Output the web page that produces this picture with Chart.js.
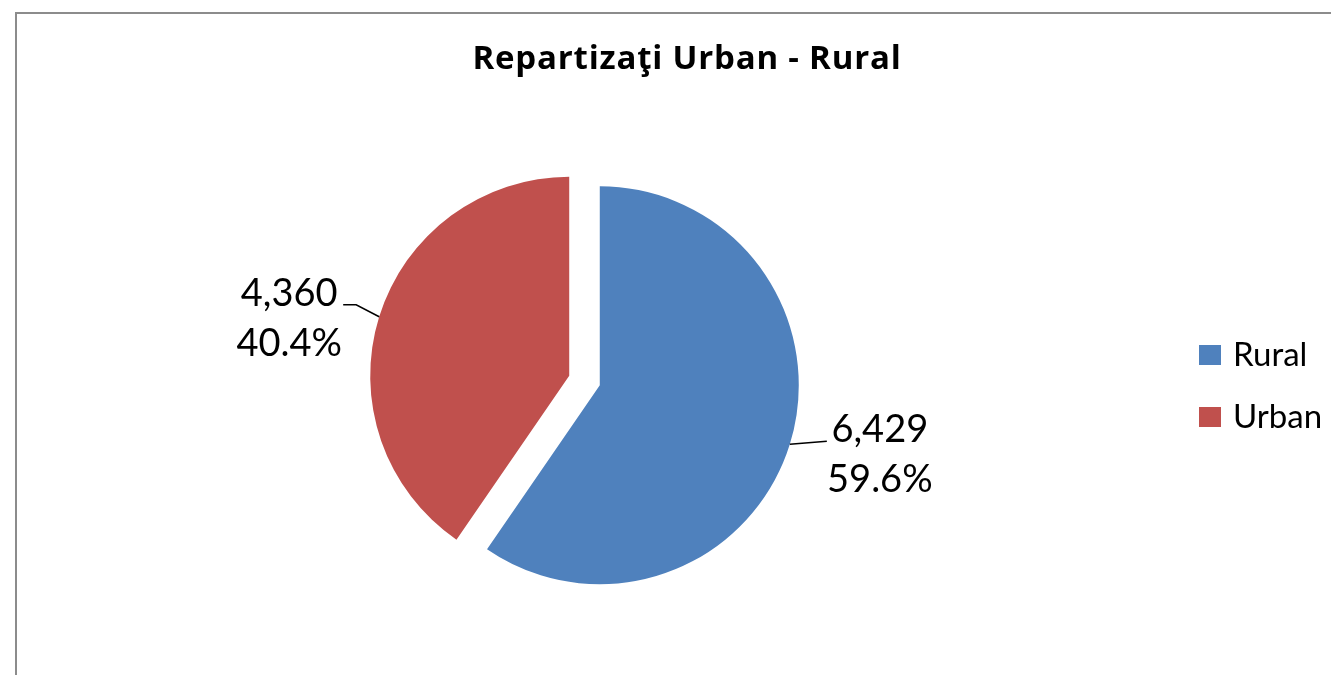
<!DOCTYPE html>
<html>
<head>
<meta charset="utf-8">
<script src="https://cdn.jsdelivr.net/npm/chart.js@4"></script>
<style>
  html,body{margin:0;padding:0;background:#fff;overflow:hidden;}
  .frame{position:absolute;left:15px;top:12px;width:1400px;height:700px;border:2px solid #8c8c8c;box-sizing:border-box;}
  #pie{position:absolute;left:0;top:0;}
</style>
</head>
<body>
<div class="frame"></div>
<canvas id="pie" width="1331" height="675"></canvas>
<script>
const title = 'Repartizaţi Urban - Rural';
const labels = ['Rural', 'Urban'];
const values = [6429, 4360];
const colors = ['#4F81BD', '#C0504D'];

const FONT = 'Lato, "Open Sans", sans-serif';
const EXPLODE = 16;

const total = values.reduce((a,b)=>a+b,0);

// pull each slice out from the centre, then let the arc element draw itself
const explodePlugin = {
  id:'explode',
  beforeDatasetDraw(chart, args){
    const ctx = chart.ctx;
    args.meta.data.forEach(arc=>{
      const mid = (arc.startAngle + arc.endAngle)/2;
      ctx.save();
      ctx.translate(Math.cos(mid)*EXPLODE, Math.sin(mid)*EXPLODE);
      arc.draw(ctx);
      ctx.restore();
    });
    return false;
  }
};

const decorPlugin = {
  id:'decor',
  afterDraw(chart){
    const ctx = chart.ctx;
    ctx.save();
    // title
    ctx.fillStyle = '#000';
    ctx.font = 'bold 33px "Open Sans", sans-serif';
    ctx.letterSpacing = '0.8px';
    ctx.textAlign = 'center';
    ctx.textBaseline = 'alphabetic';
    ctx.fillText(title, 687, 69);
    ctx.letterSpacing = '0px';

    // data labels with leader lines
    const meta = chart.getDatasetMeta(0);
    meta.data.forEach((arc,i)=>{
      const mid = (arc.startAngle + arc.endAngle)/2;
      const r = arc.outerRadius + EXPLODE;
      const ax = arc.x + Math.cos(mid)*r;
      const ay = arc.y + Math.sin(mid)*r;
      const right = Math.cos(mid) > 0;
      ctx.strokeStyle = '#000';
      ctx.lineWidth = 1.5;
      ctx.beginPath();
      ctx.moveTo(ax, ay);
      let cx, by;
      if(right){
        ctx.lineTo(ax+37, ay-3);
        cx = ax + 90; by = ay - 2;
      }else{
        ctx.lineTo(ax-23, ay-12);
        ctx.lineTo(ax-36, ay-12);
        cx = ax - 90; by = ay - 11;
      }
      ctx.stroke();
      ctx.font = '38px ' + FONT;
      ctx.textAlign = 'center';
      ctx.fillStyle = '#000';
      ctx.fillText(values[i].toLocaleString('en-US'), cx, by);
      ctx.fillText((values[i]/total*100).toFixed(1) + '%', cx, by + 50);
    });

    // legend
    ctx.font = '33px ' + FONT;
    ctx.textAlign = 'left';
    labels.forEach((lab,i)=>{
      const y = 366 + i*62;
      ctx.fillStyle = colors[i];
      ctx.fillRect(1199, y-21, 22, 20);
      ctx.fillStyle = '#000';
      ctx.fillText(lab, 1233, y);
    });
    ctx.restore();
  }
};

new Chart(document.getElementById('pie'), {
  type:'pie',
  data:{
    labels: labels,
    datasets:[{
      data: values,
      backgroundColor: colors,
      borderWidth: 0
    }]
  },
  options:{
    responsive:false,
    animation:false,
    radius:199,
    layout:{padding:{left:0,right:162,top:86,bottom:0}},
    plugins:{
      legend:{display:false},
      title:{display:false},
      tooltip:{enabled:false}
    }
  },
  plugins:[explodePlugin, decorPlugin]
});
</script>
</body>
</html>
